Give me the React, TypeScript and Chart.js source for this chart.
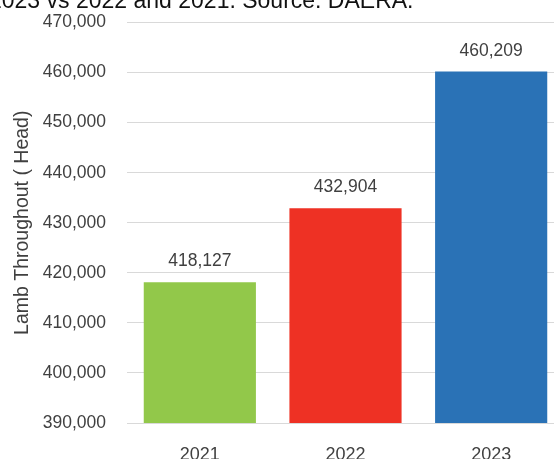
import React, { useEffect, useRef } from "react";
import { Chart, registerables } from "chart.js";

Chart.register(...registerables);

const categories = ["2021", "2022", "2023"];
const throughput = [418127, 432904, 460209];
const barColors = ["#92c84a", "#ee3124", "#2a72b6"];
const yMin = 390000;
const yMax = 470000;
const yStep = 10000;
const yTitle = "Lamb Throughout ( Head)";
const headline = "2023 vs 2022 and 2021. Source: DAERA.";

const FONT = "'Liberation Sans', Arial, sans-serif";
const fmt = (v: number) => v.toLocaleString("en-US");

const valueLabels = {
  id: "valueLabels",
  afterDatasetsDraw(chart: any) {
    const ctx = chart.ctx;
    const meta = chart.getDatasetMeta(0);
    ctx.save();
    ctx.font = `17.5px ${FONT}`;
    ctx.fillStyle = "#404040";
    ctx.textAlign = "center";
    ctx.textBaseline = "alphabetic";
    meta.data.forEach((el: any, i: number) => {
      const v = chart.data.datasets[0].data[i] as number;
      ctx.fillText(fmt(v), el.x, el.y - 16);
    });
    ctx.restore();
  },
};

export default function App() {
  const ref = useRef<HTMLCanvasElement | null>(null);
  useEffect(() => {
    if (!ref.current) return;
    const chart = new Chart(ref.current, {
      type: "bar",
      data: {
        labels: categories,
        datasets: [
          {
            data: throughput,
            backgroundColor: barColors,
            borderWidth: 0,
            categoryPercentage: 1,
            barPercentage: 0.77,
          },
        ],
      },
      options: {
        responsive: false,
        animation: false,
        layout: { padding: { top: 12, right: 36, left: 0, bottom: 0 } },
        plugins: {
          legend: { display: false },
          tooltip: { enabled: false },
        },
        scales: {
          x: {
            grid: { display: false, drawTicks: false },
            border: { display: true, color: "#d9d9d9", width: 1 },
            ticks: {
              font: { family: FONT, size: 18 },
              color: "#404040",
              padding: 21,
            },
            afterFit: (s: any) => {
              s.height = 57;
            },
          },
          y: {
            min: yMin,
            max: yMax,
            ticks: {
              stepSize: yStep,
              font: { family: FONT, size: 17.5 },
              color: "#404040",
              padding: 21,
              callback: (v: any) => fmt(Number(v)),
            },
            grid: { color: "#d9d9d9", drawTicks: false, lineWidth: 1 },
            border: { display: false },
            title: {
              display: true,
              text: yTitle,
              font: { family: FONT, size: 19.5 },
              color: "#404040",
              padding: { top: 11, bottom: 0 },
            },
            afterFit: (s: any) => {
              s.width = 127;
            },
          },
        },
      },
      plugins: [valueLabels],
    });
    return () => chart.destroy();
  }, []);

  return (
    <div
      style={{
        position: "fixed",
        left: 0,
        top: 0,
        width: 554,
        height: 459,
        overflow: "hidden",
        background: "#ffffff",
      }}
    >
      <canvas
        ref={ref}
        width={600}
        height={489}
        style={{ position: "absolute", left: 0, top: -9, width: 600, height: 489 }}
      />
      <div
        style={{
          position: "absolute",
          left: -11,
          top: -11,
          whiteSpace: "nowrap",
          fontFamily: FONT,
          fontSize: 23,
          lineHeight: "23px",
          color: "#111111",
        }}
      >
        {headline}
      </div>
    </div>
  );
}
